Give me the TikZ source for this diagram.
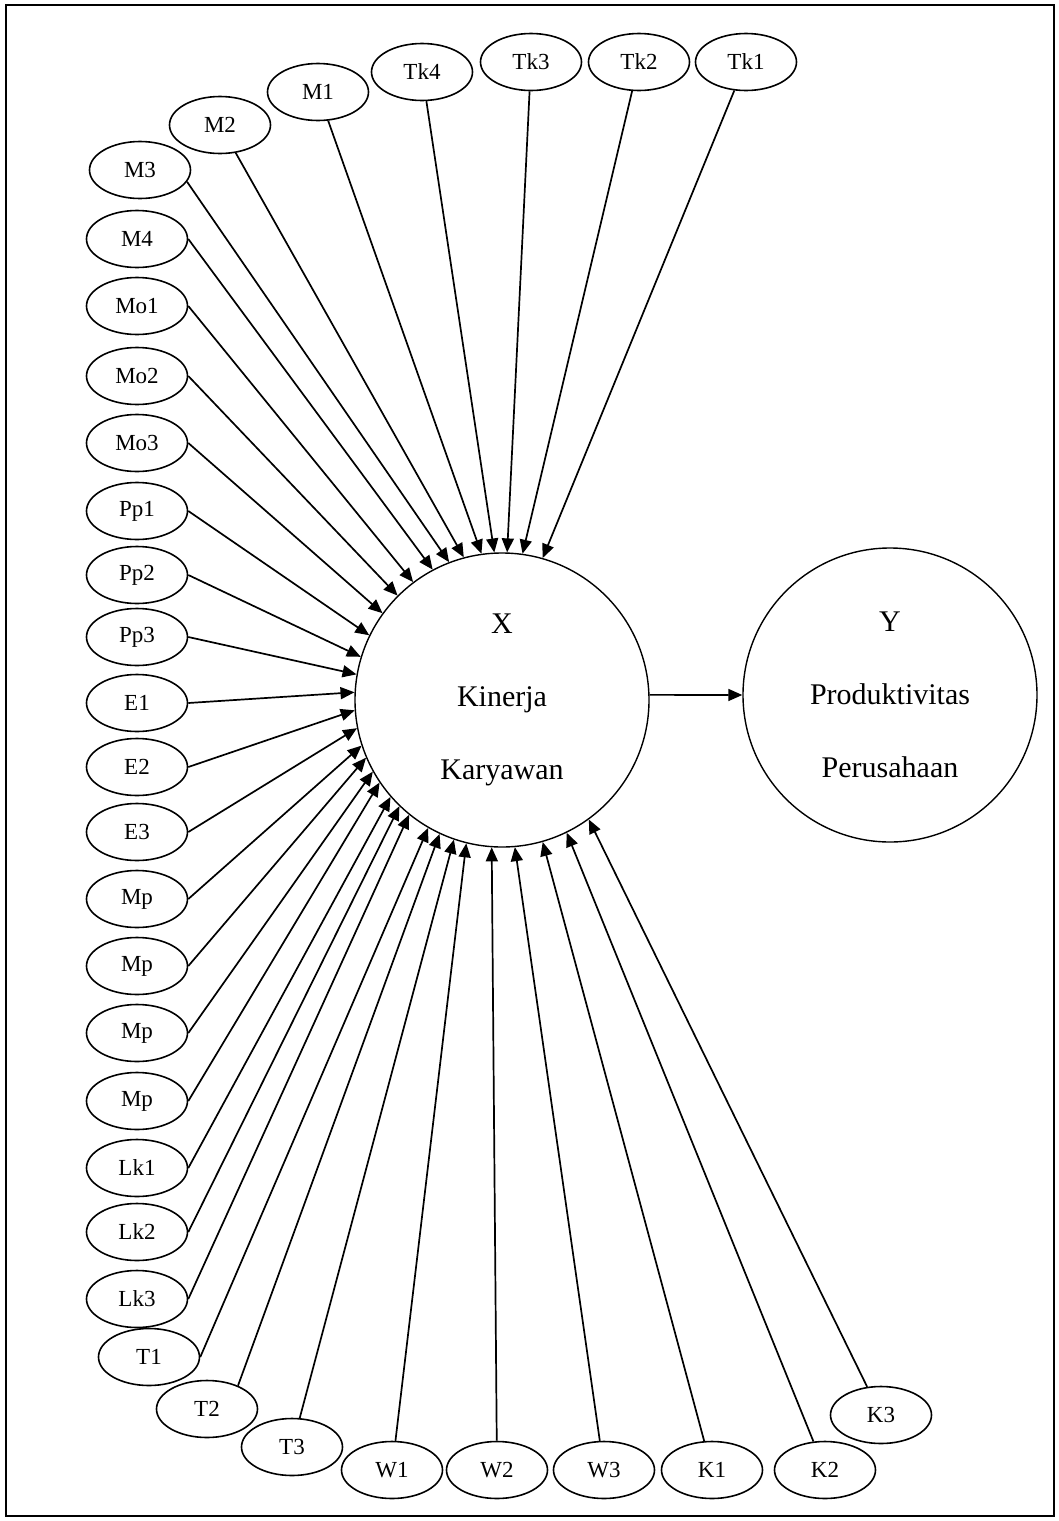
\documentclass[tikz,border=0pt]{standalone}
\usepackage{fontspec}
\setmainfont{Liberation Serif}
\usetikzlibrary{shapes.geometric,arrows.meta}
\begin{document}
\begin{tikzpicture}[x=1pt,y=-1pt,
  ind/.style={draw, ellipse, line width=1.6pt, minimum width=101pt, minimum height=57pt, inner sep=0pt, font=\fontsize{23}{27}\selectfont},
  lat/.style={draw, circle, line width=1.4pt, minimum size=294pt, inner sep=0pt, align=center, font=\fontsize{30}{73}\selectfont},
  arr/.style={line width=1.7pt, -{Triangle[length=14pt,width=12pt]}},
  frame/.style={line width=1.8pt}]
\useasboundingbox (0,0) rectangle (1059,1521);
\draw[frame] (6,5) rectangle (1054,1516);

% latent constructs
\node[lat] (X) at (502,700) {X\\Kinerja\\Karyawan};
\node[lat] (Y) at (890,695) {Y\\Produktivitas\\Perusahaan};

% top indicators
\node[ind] (M3) at (140,170) {M3};
\node[ind] (M2) at (220,125) {M2};
\node[ind] (M1) at (318,92) {M1};
\node[ind] (Tk4) at (422,72) {Tk4};
\node[ind] (Tk3) at (531,62) {Tk3};
\node[ind] (Tk2) at (639,62) {Tk2};
\node[ind] (Tk1) at (746,62) {Tk1};

% left column
\node[ind] (M4) at (137,239) {M4};
\node[ind] (Mo1) at (137,306) {Mo1};
\node[ind] (Mo2) at (137,376) {Mo2};
\node[ind] (Mo3) at (137,443) {Mo3};
\node[ind] (Pp1) at (137,511) {Pp1};
\node[ind] (Pp2) at (137,575) {Pp2};
\node[ind] (Pp3) at (137,637) {Pp3};
\node[ind] (E1) at (137,703) {E1};
\node[ind] (E2) at (137,767) {E2};
\node[ind] (E3) at (137,832) {E3};
\node[ind] (Mpa) at (137,899) {Mp};
\node[ind] (Mpb) at (137,966) {Mp};
\node[ind] (Mpc) at (137,1033) {Mp};
\node[ind] (Mpd) at (137,1101) {Mp};
\node[ind] (Lk1) at (137,1168) {Lk1};
\node[ind] (Lk2) at (137,1232) {Lk2};
\node[ind] (Lk3) at (137,1299) {Lk3};

% bottom
\node[ind] (T1) at (149,1357) {T1};
\node[ind] (T2) at (207,1409) {T2};
\node[ind] (T3) at (292,1447) {T3};
\node[ind] (W1) at (392,1470) {W1};
\node[ind] (W2) at (497,1470) {W2};
\node[ind] (W3) at (604,1470) {W3};
\node[ind] (K1) at (712,1470) {K1};
\node[ind] (K2) at (825,1470) {K2};
\node[ind] (K3) at (881,1415) {K3};

% connectors
\foreach \n/\a in {Tk1/74.4, Tk2/82, Tk3/88, Tk4/93.5, M1/98.5, M2/105,
                   T3/251, W1/256, W2/266.5, W3/275, K1/286.5, K2/296, K3/306}
  \draw[arr] (\n) -- (X.\a);
\draw[arr] (M3.-14) -- (X.111.4);
\draw[arr] (T2.37) -- (X.245.6);
\foreach \n/\a in {M4/118.7, Mo1/127, Mo2/135, Mo3/144.6, Pp1/154.3, Pp2/163.5, Pp3/170,
                   E1/177, E2/184.5, E3/191, Mpa/198, Mpb/203.6, Mpc/209.3, Mpd/214.9,
                   Lk1/221.4, Lk2/226.3, Lk3/231.6, T1/240.6}
  \draw[arr] (\n.east) -- (X.\a);

\draw[arr] (X.2) -- (Y.west);
\end{tikzpicture}
\end{document}
